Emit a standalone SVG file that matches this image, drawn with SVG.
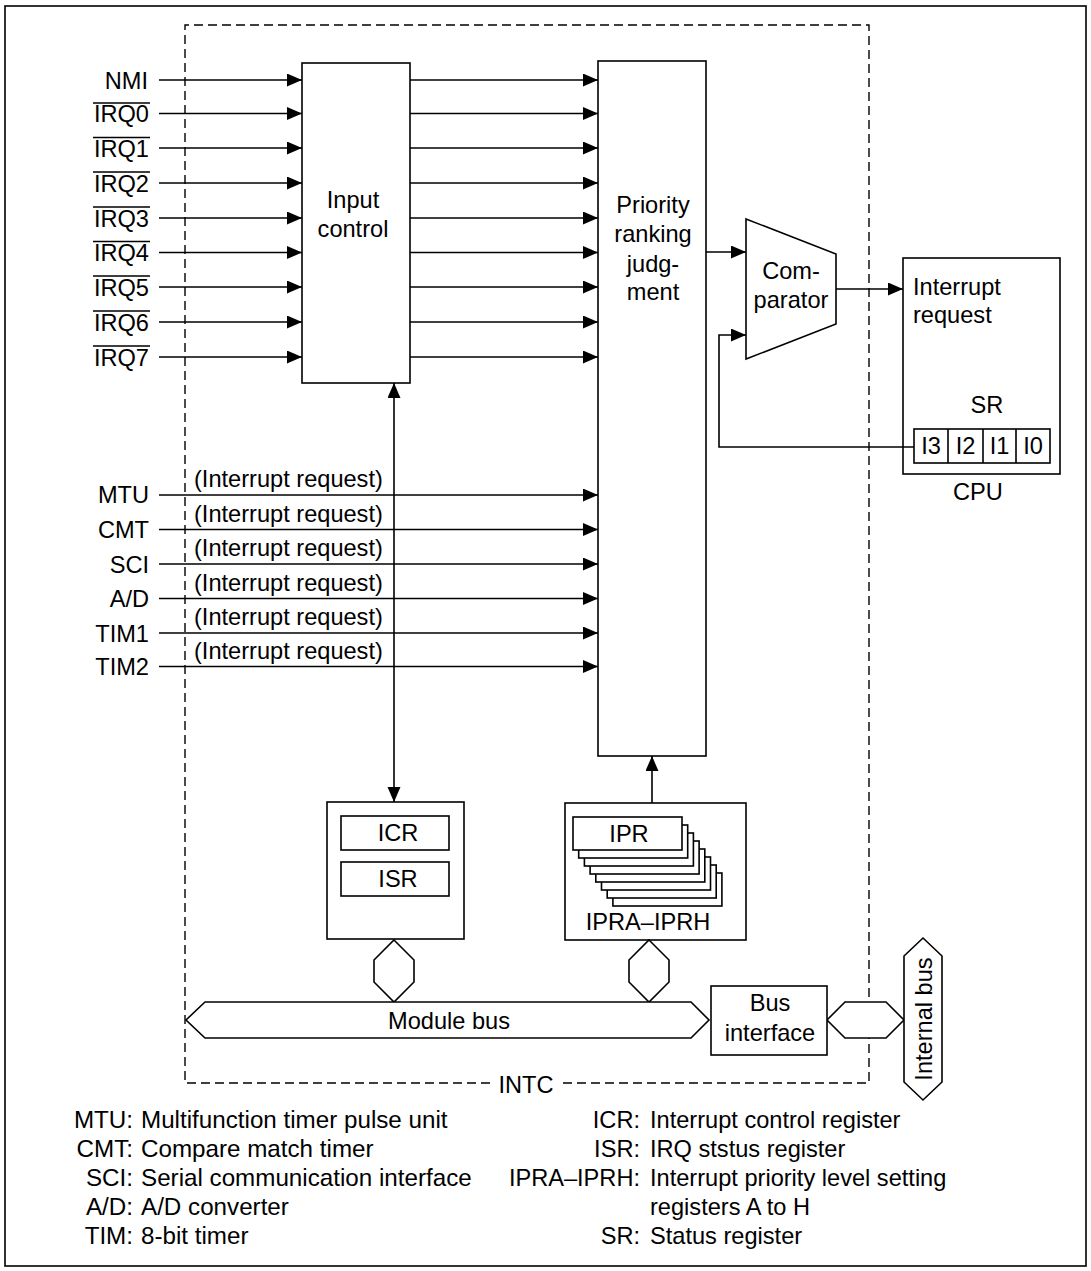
<svg xmlns="http://www.w3.org/2000/svg" width="1091" height="1271" viewBox="0 0 1091 1271">
<style>
text{font-family:"Liberation Sans",Arial,sans-serif;font-size:23.6px;fill:#000}
.e{text-anchor:end}
.m{text-anchor:middle}
.lg{font-size:24.2px}
.b{fill:#fff;stroke:#000;stroke-width:1.6}
.l{fill:none;stroke:#000;stroke-width:1.6}
.a{fill:none;stroke:#000;stroke-width:1.6;marker-end:url(#ah)}
.d{fill:none;stroke:#000;stroke-width:1.4;stroke-dasharray:9 5}
</style>
<defs>
<marker id="ah" markerUnits="userSpaceOnUse" markerWidth="16" markerHeight="14" refX="15" refY="6.5" orient="auto-start-reverse">
<path d="M0,0 L15,6.5 L0,13 z" fill="#000"/>
</marker>
</defs>
<rect x="5" y="6" width="1081" height="1260" fill="#fff" stroke="#000" stroke-width="1.6"/>
<g id="intc">
<path class="d" d="M490,1083 H185 V25 H869 V1083 H562"/>
<text class="m" x="526" y="1093">INTC</text>
</g>
<g id="inputs">
<text class="e" x="148" y="89">NMI</text>
<text class="e" x="149" y="122">IRQ0</text>
<text class="e" x="149" y="156.5">IRQ1</text>
<text class="e" x="149" y="191.5">IRQ2</text>
<text class="e" x="149" y="226.5">IRQ3</text>
<text class="e" x="149" y="261">IRQ4</text>
<text class="e" x="149" y="295.5">IRQ5</text>
<text class="e" x="149" y="330.5">IRQ6</text>
<text class="e" x="149" y="365.5">IRQ7</text>
<path class="l" d="M93,103 H150 M93,137.5 H150 M93,172 H150 M93,207 H150 M93,241.5 H150 M93,276 H150 M93,311 H150 M93,346 H150"/>
<text class="e" x="149" y="503">MTU</text>
<text class="e" x="149" y="538">CMT</text>
<text class="e" x="149" y="572.5">SCI</text>
<text class="e" x="149" y="607">A/D</text>
<text class="e" x="149" y="641.5">TIM1</text>
<text class="e" x="149" y="675">TIM2</text>
<text x="194" y="487">(Interrupt request)</text>
<text x="194" y="521.5">(Interrupt request)</text>
<text x="194" y="556">(Interrupt request)</text>
<text x="194" y="590.5">(Interrupt request)</text>
<text x="194" y="625">(Interrupt request)</text>
<text x="194" y="659">(Interrupt request)</text>
</g>
<g id="input-control">
<rect class="b" x="302" y="63" width="108" height="320"/>
<text class="m" x="353" y="208">Input</text>
<text class="m" x="353" y="237">control</text>
</g>
<g id="priority">
<rect class="b" x="598" y="61" width="108" height="695"/>
<text class="m" x="653" y="212.5">Priority</text>
<text class="m" x="653" y="242">ranking</text>
<text class="m" x="653" y="271.5">judg-</text>
<text class="m" x="653" y="300">ment</text>
</g>
<g id="comparator">
<polygon class="b" points="746,219 836,254 836,324 746,359"/>
<text class="m" x="791" y="279">Com-</text>
<text class="m" x="791" y="308">parator</text>
</g>
<g id="cpu">
<rect class="b" x="903" y="258" width="157" height="216"/>
<text x="913" y="295">Interrupt</text>
<text x="913" y="323">request</text>
<text class="m" x="987" y="413">SR</text>
<rect class="b" x="914" y="429" width="136" height="34"/>
<path class="l" d="M948,429 V463 M983,429 V463 M1016,429 V463"/>
<text class="m" x="931" y="454">I3</text>
<text class="m" x="965.5" y="454">I2</text>
<text class="m" x="999.5" y="454">I1</text>
<text class="m" x="1033" y="454">I0</text>
<text class="m" x="978" y="500">CPU</text>
</g>
<g id="icr-isr">
<rect class="b" x="327" y="802" width="137" height="137"/>
<rect class="b" x="341" y="816" width="108" height="34"/>
<text class="m" x="398" y="841">ICR</text>
<rect class="b" x="341" y="862" width="108" height="34"/>
<text class="m" x="398" y="887">ISR</text>
</g>
<g id="ipr">
<rect class="b" x="565" y="803" width="181" height="137"/>
<rect class="b" x="612.9" y="873" width="109" height="33"/>
<rect class="b" x="607.2" y="865" width="109" height="33"/>
<rect class="b" x="601.5" y="857" width="109" height="33"/>
<rect class="b" x="595.8" y="849" width="109" height="33"/>
<rect class="b" x="590.1" y="841" width="109" height="33"/>
<rect class="b" x="584.4" y="833" width="109" height="33"/>
<rect class="b" x="578.7" y="825" width="109" height="33"/>
<rect class="b" x="573" y="817" width="109" height="33"/>
<text class="m" x="629" y="842">IPR</text>
<text class="m" x="648" y="930">IPRA–IPRH</text>
</g>
<g id="buses">
<polygon class="b" points="394,940 414,960 414,982 394,1002 374,982 374,960"/>
<polygon class="b" points="649,940 669,960 669,982 649,1002 629,982 629,960"/>
<polygon class="b" points="186,1020 205,1002 691,1002 709,1020 691,1038 205,1038"/>
<text class="m" x="449" y="1028.5">Module bus</text>
<polygon class="b" points="827,1020 845,1002 886,1002 904,1020 886,1038 845,1038"/>
<polygon class="b" points="923,938 942,956 942,1082 923,1100 904,1082 904,956"/>
<text class="m" transform="translate(932,1019) rotate(-90)">Internal bus</text>
</g>
<g id="bus-interface">
<rect class="b" x="711" y="986" width="116" height="69"/>
<text class="m" x="770" y="1011">Bus</text>
<text class="m" x="770" y="1041">interface</text>
</g>
<g id="connectors">
<path class="a" d="M159,80 H302"/>
<path class="a" d="M159,113.5 H302"/>
<path class="a" d="M159,148 H302"/>
<path class="a" d="M159,183 H302"/>
<path class="a" d="M159,218 H302"/>
<path class="a" d="M159,252.5 H302"/>
<path class="a" d="M159,287 H302"/>
<path class="a" d="M159,322 H302"/>
<path class="a" d="M159,357 H302"/>
<path class="a" d="M410,80 H598"/>
<path class="a" d="M410,113.5 H598"/>
<path class="a" d="M410,148 H598"/>
<path class="a" d="M410,183 H598"/>
<path class="a" d="M410,218 H598"/>
<path class="a" d="M410,252.5 H598"/>
<path class="a" d="M410,287 H598"/>
<path class="a" d="M410,322 H598"/>
<path class="a" d="M410,357 H598"/>
<path class="a" d="M159,495 H598"/>
<path class="a" d="M159,529.5 H598"/>
<path class="a" d="M159,564 H598"/>
<path class="a" d="M159,598.5 H598"/>
<path class="a" d="M159,633 H598"/>
<path class="a" d="M159,666.5 H598"/>
<path class="a" style="marker-start:url(#ah)" d="M394,383 V802"/>
<path class="a" d="M652,803 V756"/>
<path class="a" d="M706,252 H746"/>
<path class="a" d="M836,289 H903"/>
<path class="a" d="M914,447 H719 V335 H746"/>
</g>
<g id="legend">
<text class="e lg" x="133" y="1127.5">MTU:</text>
<text class="lg" x="141" y="1127.5">Multifunction timer pulse unit</text>
<text class="e lg" x="133" y="1156.5">CMT:</text>
<text class="lg" x="141" y="1156.5">Compare match timer</text>
<text class="e lg" x="133" y="1185.5">SCI:</text>
<text class="lg" x="141" y="1185.5">Serial communication interface</text>
<text class="e lg" x="133" y="1215">A/D:</text>
<text class="lg" x="141" y="1215">A/D converter</text>
<text class="e lg" x="133" y="1244">TIM:</text>
<text class="lg" x="141" y="1244">8-bit timer</text>
<text class="e" x="640" y="1127.5">ICR:</text>
<text x="650" y="1127.5">Interrupt control register</text>
<text class="e" x="640" y="1156.5">ISR:</text>
<text x="650" y="1156.5">IRQ ststus register</text>
<text class="e" x="640" y="1185.5">IPRA–IPRH:</text>
<text x="650" y="1185.5">Interrupt priority level setting</text>
<text x="650" y="1215">registers A to H</text>
<text class="e" x="640" y="1244">SR:</text>
<text x="650" y="1244">Status register</text>
</g>
</svg>
